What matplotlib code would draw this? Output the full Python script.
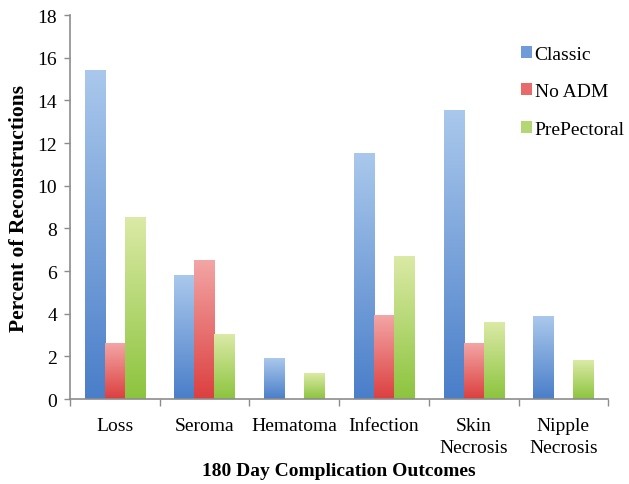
import numpy as np
import matplotlib; matplotlib.use("Agg")
import matplotlib.pyplot as plt
from matplotlib.colors import LinearSegmentedColormap
from matplotlib.patches import Patch

plt.rcParams.update({"font.family": "Liberation Serif", "font.size": 14})

categories = ["Loss", "Seroma", "Hematoma", "Infection", "Skin\nNecrosis", "Nipple\nNecrosis"]
series = ["Classic", "No ADM", "PrePectoral"]
classic = [15.4, 5.8, 1.9, 11.5, 13.5, 3.85]
no_adm = [2.6, 6.5, 0.0, 3.9, 2.6, 0.0]
prepectoral = [8.5, 3.0, 1.2, 6.7, 3.6, 1.8]

# (bottom colour, top colour) for the vertical gradient of each series
grads = [("#4a7ec9", "#aac8ec"), ("#dc3f3f", "#f3a5a5"), ("#8cc43e", "#dbeaa6")]
legend_cols = ["#6f9bd8", "#e86a6a", "#b3d873"]

fig = plt.figure(figsize=(6.29, 4.85), dpi=100)
ax = fig.add_axes([0.111, 0.175, 0.856, 0.792])

x = np.arange(len(categories))
w = 0.223
grad = np.linspace(0, 1, 256).reshape(-1, 1)
for i, vals in enumerate([classic, no_adm, prepectoral]):
    cm = LinearSegmentedColormap.from_list(series[i], grads[i])
    for xc, v in zip(x + (i - 1) * w, vals):
        if v <= 0:
            continue
        ax.imshow(grad, extent=[xc - w/2, xc + w/2, 0, v], origin="lower",
                  cmap=cm, aspect="auto", zorder=2, interpolation="bicubic")

ax.set_xlim(-0.5, len(categories) - 0.5)
ax.set_ylim(0, 18)
ax.set_yticks(range(0, 19, 2))
ax.set_xticks(x)
ax.set_xticklabels(categories, linespacing=1.4)
ax.set_xticks(np.arange(-0.5, len(categories)), minor=True)
ax.tick_params(axis="x", which="major", length=0, pad=13)
ax.tick_params(axis="x", which="minor", length=5, color="#8c8c8c", width=1)
ax.tick_params(axis="y", length=4, color="#8c8c8c", width=1, pad=5)
for s in ["top", "right"]:
    ax.spines[s].set_visible(False)
for s in ["left", "bottom"]:
    ax.spines[s].set_color("#8c8c8c")
    ax.spines[s].set_linewidth(1.2)

ax.set_ylabel("Percent of Reconstructions", fontweight="bold", fontsize=15.5, labelpad=6)
ax.set_xlabel("180 Day Complication Outcomes", fontweight="bold", fontsize=14, labelpad=4)

handles = [Patch(facecolor=c, edgecolor="none") for c in legend_cols]
ax.legend(handles, series, loc="upper left", bbox_to_anchor=(0.838, 0.92), frameon=False,
          fontsize=14, handlelength=0.55, handleheight=0.55, handletextpad=0.15,
          labelspacing=1.05, borderaxespad=0, borderpad=0)

fig.savefig("out.png", dpi=100)
